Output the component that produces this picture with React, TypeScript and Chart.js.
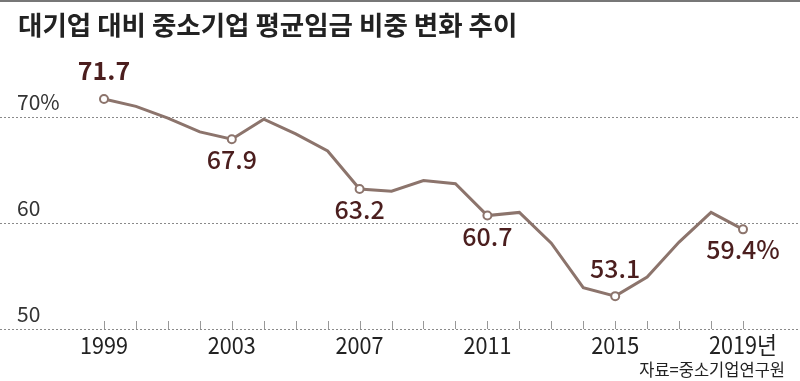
import { useEffect, useRef } from 'react';
import { Chart, registerables } from 'chart.js';

Chart.register(...registerables);

const years = [1999, 2000, 2001, 2002, 2003, 2004, 2005, 2006, 2007, 2008, 2009, 2010, 2011, 2012, 2013, 2014, 2015, 2016, 2017, 2018, 2019];
const shares = [71.7, 71.0, 69.9, 68.6, 67.9, 69.8, 68.4, 66.8, 63.2, 63.0, 64.0, 63.7, 60.7, 61.0, 58.1, 53.9, 53.1, 54.9, 58.2, 61.0, 59.4];
const labeledYears = [1999, 2003, 2007, 2011, 2015, 2019];
const labelTexts = ['71.7', '67.9', '63.2', '60.7', '53.1', '59.4%'];
const labelAbove = [true, false, false, false, true, false];
const yTicks = [50, 60, 70];
const yTickLabels = ['50', '60', '70%'];
const xTickYears = [1999, 2003, 2007, 2011, 2015, 2019];
const xTickLabels = ['1999', '2003', '2007', '2011', '2015', '2019년'];
const titleText = '대기업 대비 중소기업 평균임금 비중 변화 추이';
const sourceText = '자료=중소기업연구원';

const FONT = '"Noto Sans CJK KR", "Noto Sans", sans-serif';
const LINE_COLOR = '#8c746c';
const LABEL_COLOR = '#4b1e1e';

export default function App() {
  const ref = useRef<HTMLCanvasElement | null>(null);

  useEffect(() => {
    document.body.style.margin = '0';
    const canvas = ref.current;
    if (!canvas) return;

    const decor = {
      id: 'decor',
      beforeDatasetsDraw(chart: any) {
        const ctx = chart.ctx;
        const xs = chart.scales.x;
        const ys = chart.scales.y;
        ctx.save();
        // grid lines
        ctx.strokeStyle = '#8a8a8a';
        ctx.lineWidth = 1;
        ctx.setLineDash([2, 2]);
        yTicks.forEach((v) => {
          const y = Math.round(ys.getPixelForValue(v)) + 0.5;
          ctx.beginPath();
          ctx.moveTo(0, y);
          ctx.lineTo(800, y);
          ctx.stroke();
        });
        ctx.setLineDash([]);
        // tick marks
        const base = Math.round(ys.getPixelForValue(50));
        ctx.strokeStyle = '#999';
        years.forEach((yr) => {
          const x = Math.round(xs.getPixelForValue(yr)) + 0.5;
          ctx.beginPath();
          ctx.moveTo(x, base - 8);
          ctx.lineTo(x, base);
          ctx.stroke();
        });
        // y labels
        ctx.fillStyle = '#333';
        ctx.font = `400 21px ${FONT}`;
        ctx.textAlign = 'left';
        ctx.textBaseline = 'alphabetic';
        yTicks.forEach((v, i) => {
          const y = ys.getPixelForValue(v) - 7;
          ctx.fillText(yTickLabels[i], 17, y);
        });
        // x labels (slightly condensed)
        ctx.fillStyle = '#222';
        ctx.font = `400 24px ${FONT}`;
        ctx.textAlign = 'center';
        xTickYears.forEach((yr, i) => {
          const x = xs.getPixelForValue(yr);
          ctx.save();
          ctx.translate(x, base + 25);
          ctx.scale(0.9, 1);
          ctx.fillText(xTickLabels[i], 0, 0);
          ctx.restore();
        });
        // top border
        ctx.fillStyle = '#777';
        ctx.fillRect(0, 0, 800, 2);
        // title
        ctx.fillStyle = '#222';
        ctx.font = `700 26.5px ${FONT}`;
        ctx.textAlign = 'left';
        ctx.fillText(titleText, 18, 35);
        // source
        ctx.font = `400 16.5px ${FONT}`;
        ctx.textAlign = 'right';
        ctx.fillText(sourceText, 785, 376);
        ctx.restore();
      },
      afterDatasetsDraw(chart: any) {
        const ctx = chart.ctx;
        const meta = chart.getDatasetMeta(0);
        ctx.save();
        ctx.fillStyle = LABEL_COLOR;
        ctx.textAlign = 'center';
        ctx.textBaseline = 'alphabetic';
        labeledYears.forEach((yr, i) => {
          const idx = years.indexOf(yr);
          const pt = meta.data[idx];
          ctx.font = `${i === 0 ? 700 : 500} 25px ${FONT}`;
          const y = labelAbove[i] ? pt.y - 18.5 : pt.y + 30;
          ctx.fillText(labelTexts[i], pt.x, y);
        });
        ctx.restore();
      },
    };

    const chart = new Chart(canvas, {
      type: 'line',
      data: {
        datasets: [
          {
            data: years.map((yr, i) => ({ x: yr, y: shares[i] })),
            borderColor: LINE_COLOR,
            borderWidth: 3,
            tension: 0,
            pointRadius: years.map((yr) => (labeledYears.includes(yr) ? 4 : 0)),
            pointBackgroundColor: '#fff',
            pointBorderColor: LINE_COLOR,
            pointBorderWidth: 2,
          },
        ],
      },
      options: {
        animation: false,
        responsive: false,
        devicePixelRatio: 1,
        layout: { autoPadding: false, padding: { top: 64, bottom: 52, left: 0, right: 0 } },
        plugins: { legend: { display: false }, tooltip: { enabled: false } },
        scales: {
          x: { type: 'linear', min: 1995.745, max: 2020.784, display: false },
          y: { min: 50, max: 75, display: false },
        },
      },
      plugins: [decor],
    });
    return () => chart.destroy();
  }, []);

  return <canvas ref={ref} width={800} height={381} style={{ display: 'block', width: 800, height: 381 }} />;
}
